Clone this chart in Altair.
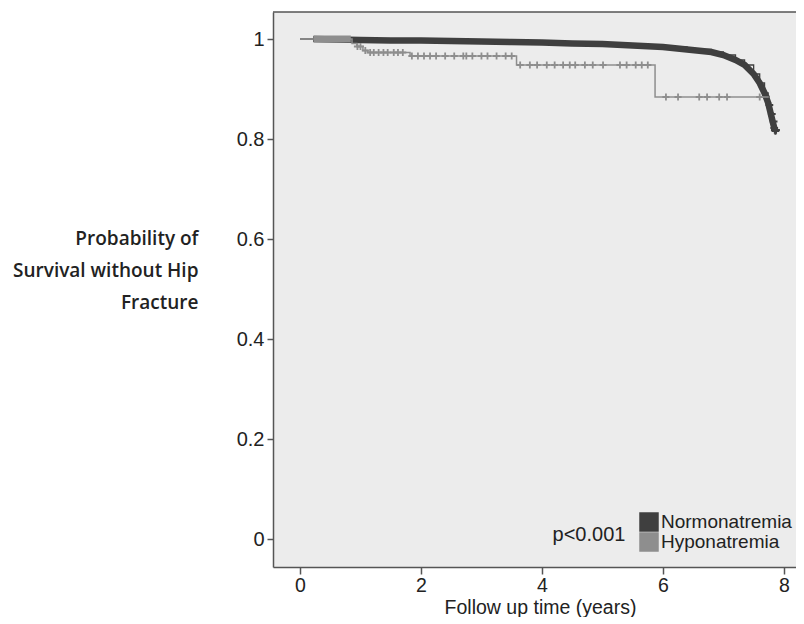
import altair as alt
import pandas as pd

# ---- data ----
# Normonatremia Kaplan-Meier curve
norm_t = [0, 0.22, 0.6, 1.0, 1.5, 2.0, 2.5, 3.0, 3.5, 4.0, 4.5, 5.0, 5.5, 6.0,
          6.4, 6.8, 7.0, 7.2, 7.35, 7.5, 7.6, 7.68, 7.74, 7.78, 7.82, 7.85]
norm_s = [1.0, 1.0, 0.999, 0.998, 0.997, 0.997, 0.996, 0.995, 0.994, 0.993, 0.991,
          0.990, 0.987, 0.984, 0.979, 0.974, 0.968, 0.958, 0.948, 0.930, 0.912,
          0.892, 0.872, 0.852, 0.832, 0.818]
norm_band_start = 0.22
norm_cens_t = [7.70, 7.76, 7.80, 7.83, 7.84, 7.85, 7.86, 7.87]
norm_cens_s = [0.885, 0.868, 0.850, 0.835, 0.822, 0.818, 0.816, 0.818]

# Hyponatremia Kaplan-Meier curve
hypo_t = [0, 0.86, 0.94, 1.04, 1.12, 1.82, 3.58, 5.87, 7.75]
hypo_s = [1.0, 0.991, 0.985, 0.977, 0.973, 0.966, 0.948, 0.884, 0.884]
hypo_band_t = [0.23, 0.84]
hypo_cens_t = [0.95, 1.00, 1.08, 1.16, 1.22, 1.30, 1.38, 1.45, 1.55, 1.62, 1.70,
               1.85, 1.95, 2.05, 2.15, 2.25, 2.40, 2.55, 2.70, 2.75, 2.85, 3.00,
               3.10, 3.25, 3.40, 3.50, 3.64, 3.80, 3.92, 4.08, 4.21, 4.35, 4.46,
               4.55, 4.71, 4.84, 5.01, 5.29, 5.40, 5.55, 5.65, 5.75, 6.05, 6.25,
               6.60, 6.73, 6.93, 7.06, 7.60]

groups = ["Normonatremia", "Hyponatremia"]
group_colors = ["#3f3f3f", "#8e8e8e"]

x_ticks = [0, 2, 4, 6, 8]
y_ticks = [0, 0.2, 0.4, 0.6, 0.8, 1]
x_domain = [-0.446, 8.2]
y_domain = [-0.056, 1.054]

p_label = "p<0.001"
p_t, p_s = 5.38, 0.008

# ---- build tables ----
norm = pd.DataFrame({"t": norm_t, "s": norm_s})
norm_band = norm[norm["t"] >= norm_band_start]
norm_cens = pd.DataFrame({"t": norm_cens_t, "s": norm_cens_s})
hypo = pd.DataFrame({"t": hypo_t, "s": hypo_s})
hypo_band = pd.DataFrame({"t": hypo_band_t, "s": [1.0, 1.0]})
hypo_cens = pd.merge_asof(pd.DataFrame({"t": hypo_cens_t}), hypo, on="t")
legend_df = pd.DataFrame({"group": groups})
ptext = pd.DataFrame({"t": [p_t], "s": [p_s], "label": [p_label]})

W, H = 523, 555
DARK = group_colors[0]
LIGHT = group_colors[1]
AXC = "#555555"
TXT = "#222222"
FONT = "Liberation Sans"
CROSS = "M-1,0H1M0,-1V1"

xs = alt.Scale(domain=x_domain, nice=False, zero=False)
ys = alt.Scale(domain=y_domain, nice=False, zero=False)

x_axis = alt.Axis(values=x_ticks, format="~g", grid=False,
                  title="Follow up time (years)", titleFont=FONT, titleFontSize=19.5,
                  titleFontWeight="normal", titleColor=TXT,
                  titleX=267, titleY=46, titleAlign="center",
                  titleBaseline="alphabetic",
                  labelFont=FONT, labelFontSize=19.5, labelColor=TXT, labelPadding=2,
                  tickSize=7, tickColor=AXC, tickWidth=1.5,
                  domainColor=AXC, domainWidth=1.5)
y_axis = alt.Axis(values=y_ticks, format="~g", grid=False,
                  title=["Probability of", "Survival without Hip", "Fracture"],
                  titleAngle=0, titleAlign="right", titleBaseline="top",
                  titleX=-75, titleY=217, titleFont="Open Sans", titleFontSize=19,
                  titleFontWeight=600, titleColor=TXT, titleLineHeight=32,
                  labelFont=FONT, labelFontSize=20, labelColor=TXT, labelPadding=3,
                  tickSize=6, tickColor=AXC, tickWidth=1.5,
                  domainColor=AXC, domainWidth=1.5)

X = alt.X("t:Q", scale=xs, axis=x_axis)
Y = alt.Y("s:Q", scale=ys, axis=y_axis)

top_rule = alt.Chart(pd.DataFrame({"a": [0]})).mark_rule(
    color=AXC, strokeWidth=1.5).encode(
    x=alt.value(0), x2=alt.value(W), y=alt.value(0))

norm_line = alt.Chart(norm).mark_line(
    interpolate="step-after", color=DARK, strokeWidth=1.3).encode(x=X, y=Y)
norm_thick = alt.Chart(norm_band).mark_line(
    interpolate="linear", color=DARK, strokeWidth=6.5).encode(x="t:Q", y="s:Q")
norm_marks = alt.Chart(norm_cens).mark_point(
    shape=CROSS, filled=False, color=DARK, strokeWidth=2, size=60, opacity=1
).encode(x="t:Q", y="s:Q")

hypo_thick = alt.Chart(hypo_band).mark_line(
    color=LIGHT, strokeWidth=7).encode(x="t:Q", y="s:Q")
hypo_line = alt.Chart(hypo).mark_line(
    interpolate="step-after", color=LIGHT, strokeWidth=1.5).encode(x="t:Q", y="s:Q")
hypo_marks = alt.Chart(hypo_cens).mark_point(
    shape=CROSS, filled=False, color=LIGHT, strokeWidth=1.8, size=50, opacity=1
).encode(x="t:Q", y="s:Q")

legend_layer = alt.Chart(legend_df).mark_square(clip=True, size=300).encode(
    x=alt.value(-1000), y=alt.value(-1000),
    color=alt.Color("group:N", scale=alt.Scale(domain=groups, range=group_colors),
                    legend=alt.Legend(orient="none", legendX=366, legendY=500,
                                      title=None, symbolType="square",
                                      symbolSize=380, symbolStrokeWidth=0,
                                      symbolOpacity=1, labelFont=FONT,
                                      labelFontSize=19, labelColor=TXT,
                                      labelOffset=2, rowPadding=0, padding=0)))

p_layer = alt.Chart(ptext).mark_text(
    align="right", baseline="middle", font=FONT, fontSize=20, color=TXT
).encode(x="t:Q", y="s:Q", text="label:N")

chart = alt.layer(
    norm_line, norm_thick, norm_marks, hypo_thick, hypo_line, hypo_marks,
    p_layer, legend_layer, top_rule
).properties(
    width=W, height=H,
    autosize=alt.AutoSizeParams(type="none"),
    padding={"left": 265, "top": 4, "right": 0, "bottom": 50},
    background="white",
).configure_view(fill="#ececec", stroke=None)

chart.save("out.html", embed_options={"renderer": "svg", "actions": False})
